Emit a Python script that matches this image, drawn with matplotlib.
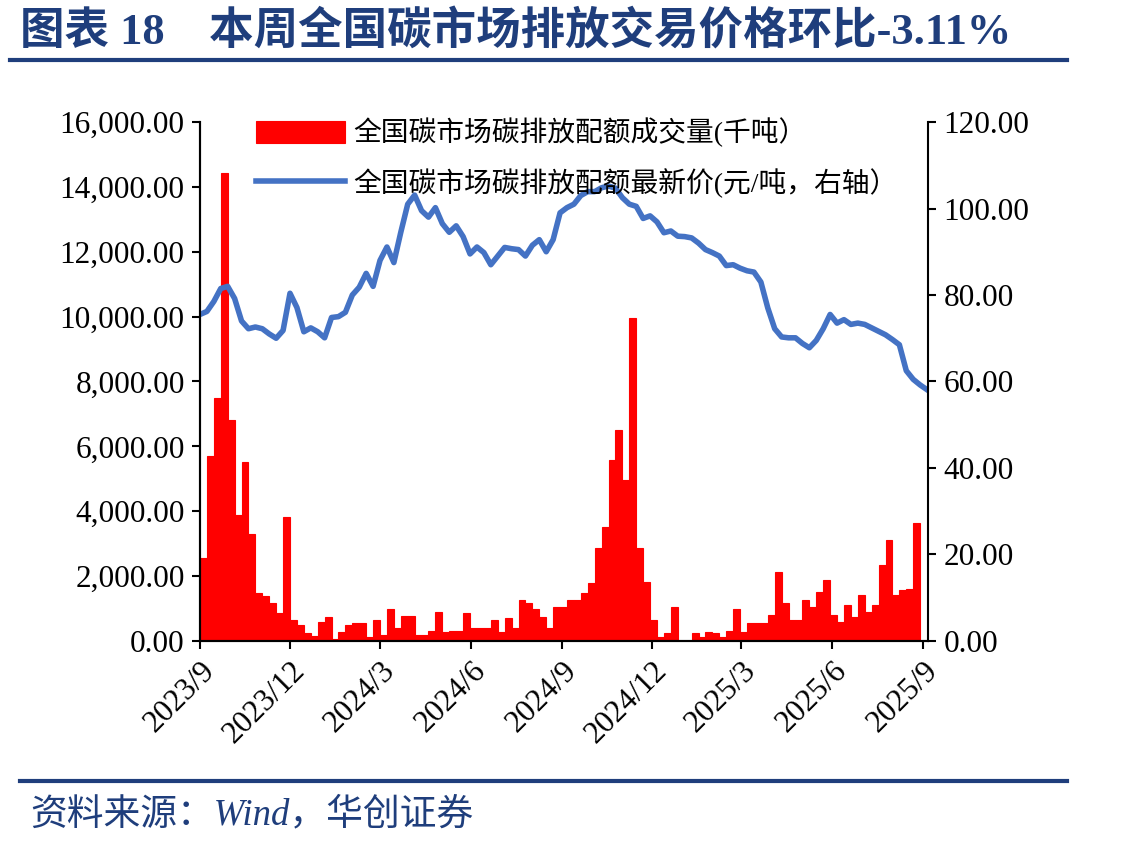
import matplotlib
matplotlib.use("Agg")
import matplotlib.pyplot as plt
import pandas as pd
from matplotlib.ticker import FuncFormatter, MultipleLocator

plt.rcParams['font.family'] = ['Liberation Serif', 'Noto Sans CJK SC']

# weekly volume of national carbon allowances (thousand tonnes), weeks from 2023-09-01
volume = [2550, 5700, 7500, 14420, 6815, 3890, 5530, 3300, 1470, 1400,
          1160, 850, 3835, 650, 500, 240, 150, 600, 750, 60,
          280, 490, 545, 545, 135, 650, 185, 975, 400, 770,
          770, 185, 185, 320, 905, 290, 310, 310, 850, 400,
          390, 390, 650, 290, 700, 390, 1265, 1160, 975, 750,
          400, 1060, 1060, 1265, 1265, 1480, 1790, 2870, 3515, 5580,
          6505, 4960, 9960, 2870, 1820, 650, 120, 250, 1050, 0,
          0, 235, 135, 290, 235, 135, 300, 1000, 290, 545,
          545, 545, 800, 2140, 1160, 650, 650, 1265, 1060, 1520,
          1880, 800, 600, 1110, 750, 1420, 900, 1110, 2340, 3115,
          1420, 1570, 1600, 3630]

# latest price (yuan/tonne, right axis), weekly from 2023-09-01
price = [75.5, 76.2, 78.5, 81.5, 82.0, 79.2, 74.0, 72.2, 72.6, 72.2,
         71.0, 70.0, 71.8, 80.4, 77.1, 71.5, 72.4, 71.5, 70.1, 74.8,
         75.0, 76.0, 80.0, 81.8, 85.0, 82.0, 88.0, 91.1, 87.5, 94.5,
         101.0, 103.1, 99.5, 98.0, 100.2, 96.5, 94.5, 96.0, 93.5, 89.5,
         91.1, 89.8, 87.0, 89.0, 91.0, 90.7, 90.5, 89.0, 91.5, 92.8,
         90.0, 92.8, 99.0, 100.2, 101.0, 103.0, 103.9, 103.9, 104.8, 105.2,
         104.7, 102.5, 101.0, 100.5, 97.7, 98.3, 96.9, 94.4, 94.8, 93.6,
         93.5, 93.2, 92.0, 90.5, 89.8, 89.0, 86.8, 87.0, 86.2, 85.6,
         85.3, 83.0, 77.0, 72.2, 70.3, 70.1, 70.1, 68.8, 67.8, 69.5,
         72.2, 75.5, 73.5, 74.3, 73.2, 73.5, 73.2, 72.4, 71.6, 70.8,
         69.7, 68.5, 62.5, 60.5, 59.2, 58.1]

tick_labels = ['2023/9', '2023/12', '2024/3', '2024/6', '2024/9',
               '2024/12', '2025/3', '2025/6', '2025/9']

vol_dates = pd.date_range('2023-09-01', periods=len(volume), freq='7D')
price_dates = pd.date_range('2023-09-01', periods=len(price), freq='7D')
tick_dates = pd.to_datetime([s + '/1' for s in tick_labels], format='%Y/%m/%d')

navy = '#1F3E7C'

fig = plt.figure(figsize=(11.26, 8.49), dpi=100)
ax = fig.add_axes([0.1776, 0.245, 0.6466, 0.6113])
ax2 = ax.twinx()

bars = ax.bar(vol_dates, volume, width=7, align='edge', color='#FF0000',
              edgecolor='#FF0000', linewidth=0.8,
              label='全国碳市场碳排放配额成交量(千吨）')
line, = ax2.plot(price_dates, price, color='#4472C4', linewidth=4,
                 label='全国碳市场碳排放配额最新价(元/吨，右轴）')

ax.set_xlim(pd.Timestamp('2023-09-01'), pd.Timestamp('2025-09-06'))
ax.set_ylim(0, 16000)
ax2.set_ylim(0, 120)
ax.yaxis.set_major_locator(MultipleLocator(2000))
ax2.yaxis.set_major_locator(MultipleLocator(20))
ax.yaxis.set_major_formatter(FuncFormatter(lambda v, p: f'{v:,.2f}'))
ax2.yaxis.set_major_formatter(FuncFormatter(lambda v, p: f'{v:,.2f}'))

ax.set_xticks(tick_dates)
ax.set_xticklabels(tick_labels, rotation=45, ha='right', rotation_mode='anchor')

for a in (ax, ax2):
    a.tick_params(direction='out', length=6, width=1.5, labelsize=22.5,
                  colors='black', pad=5)
    for s in a.spines.values():
        s.set_linewidth(1.5)
    a.spines['top'].set_visible(False)
ax.spines['right'].set_visible(False)

ax2.legend(handles=[bars, line], loc='upper left', bbox_to_anchor=(0.062, 1.03),
           frameon=False, fontsize=20, handlelength=3.2, handleheight=0.85,
           handletextpad=0.3, labelspacing=0.75, borderaxespad=0)

fig.text(0.018, 0.963, '图表 18　本周全国碳市场排放交易价格环比-3.11%',
         fontsize=32, fontweight='bold', color=navy, va='center',
         family=['Liberation Serif', 'Noto Sans CJK SC'])
fig.add_artist(plt.Line2D([0.009, 0.948], [0.929, 0.929], color=navy, linewidth=3))
fig.add_artist(plt.Line2D([0.018, 0.948], [0.080, 0.080], color=navy, linewidth=3))
fig.text(0.027, 0.040, '资料来源：Wind，华创证券', fontsize=26.5, style='italic',
         color=navy, va='center', family=['Liberation Serif', 'Noto Sans CJK SC'])

fig.savefig('out.png', dpi=100)
